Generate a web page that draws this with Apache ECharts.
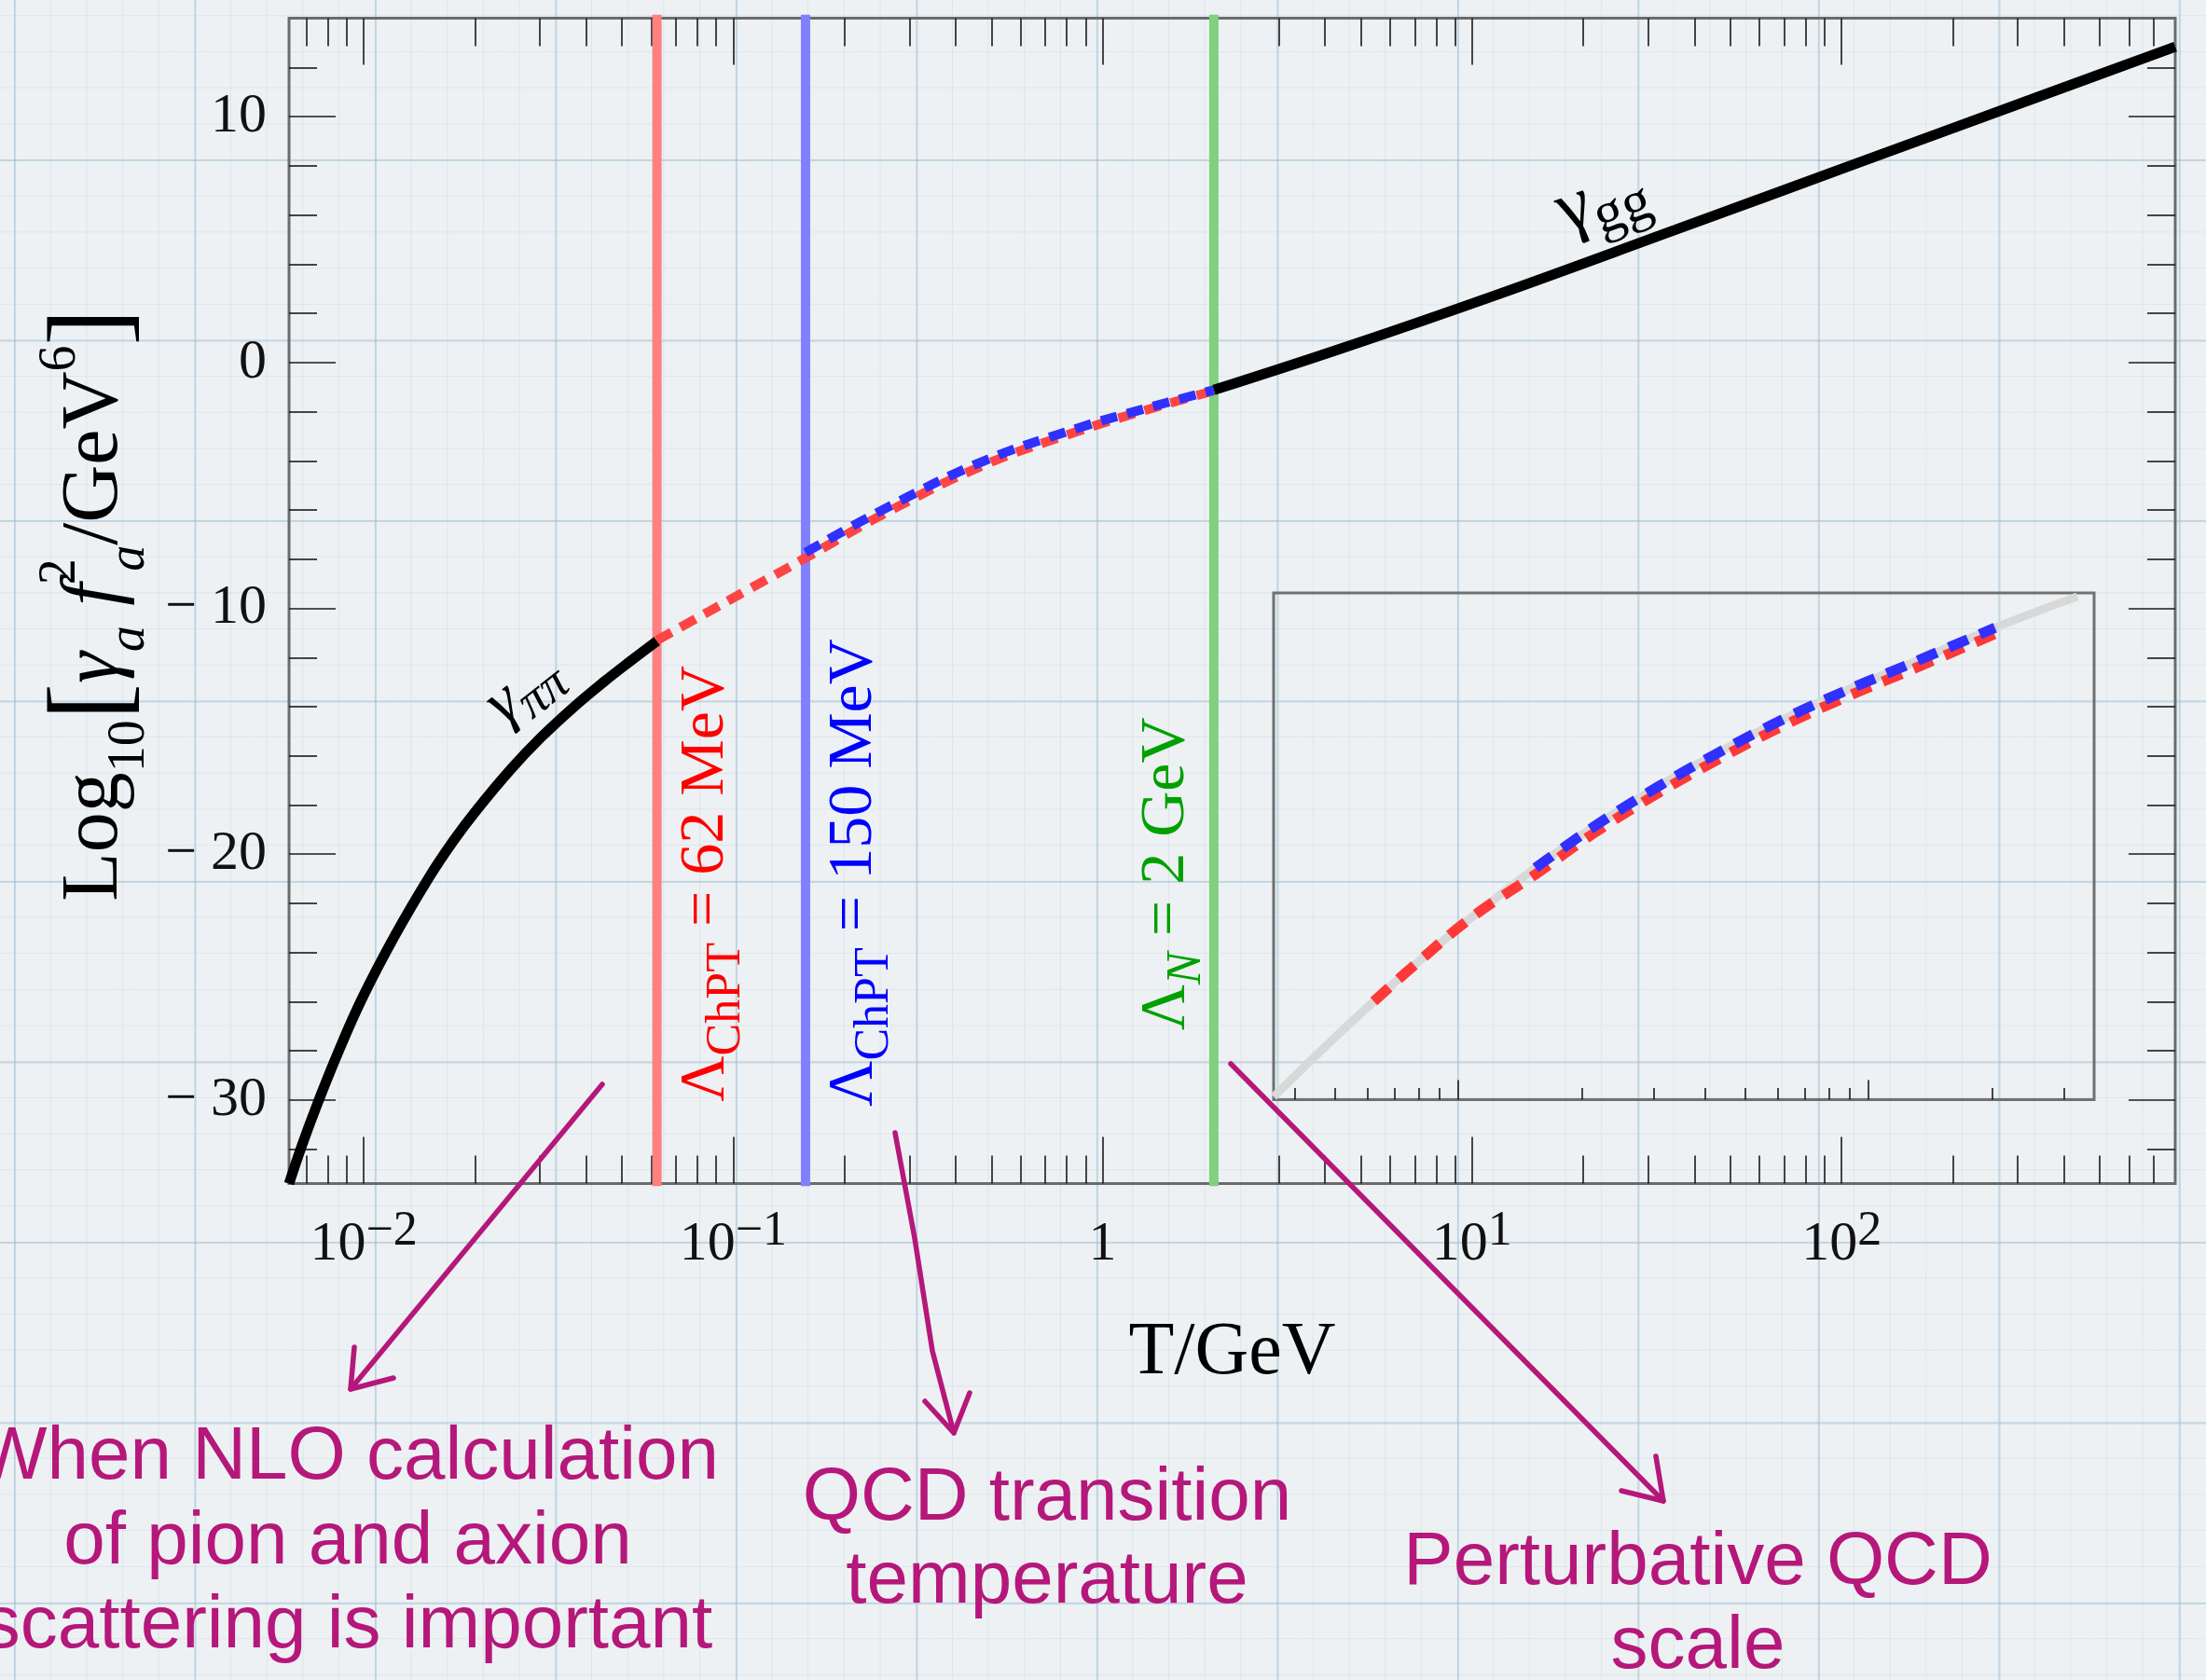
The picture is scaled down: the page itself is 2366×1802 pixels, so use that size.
<!DOCTYPE html>
<html>
<head>
<meta charset="utf-8">
<title>Axion thermalisation rate</title>
<script src="https://cdn.jsdelivr.net/npm/echarts@6.0.0/dist/echarts.min.js"></script>
<style>
  html, body { margin: 0; padding: 0; }
  body {
    background-color: #edf1f3;
    background-image:
      linear-gradient(to right, rgba(150, 185, 210, 0.45) 2px, transparent 2px),
      linear-gradient(to bottom, rgba(150, 185, 210, 0.45) 2px, transparent 2px),
      linear-gradient(to right, rgba(165, 190, 210, 0.22) 1px, transparent 1px),
      linear-gradient(to bottom, rgba(165, 190, 210, 0.22) 1px, transparent 1px);
    background-size: 193.5px 193.5px, 193.5px 193.5px, 38.7px 38.7px, 38.7px 38.7px;
    background-position: 15px 171px, 15px 171px, 15px 171px, 15px 171px;
  }
  #chart { width: 2366px; height: 1802px; }
</style>
</head>
<body>
<div id="chart"></div>
<script>
// axis ranges and ticks (main panel)
const xRange = [0.00628, 800];
const yRange = [-33.4, 14];
const xMajorTicks = [0.01, 0.1, 1, 10, 100];
const xTickLabels = ['10^−2', '10^−1', '1', '10^1', '10^2'];
const xMinorTicks = [0.007, 0.008, 0.009,
  0.02, 0.03, 0.04, 0.05, 0.06, 0.07, 0.08, 0.09,
  0.2, 0.3, 0.4, 0.5, 0.6, 0.7, 0.8, 0.9,
  2, 3, 4, 5, 6, 7, 8, 9,
  20, 30, 40, 50, 60, 70, 80, 90,
  200, 300, 400, 500, 600, 700];
const yMajorTicks = [-30, -20, -10, 0, 10];
const yTickLabels = ['− 30', '− 20', '− 10', '0', '10'];
const yMinorTicks = [-32, -28, -26, -24, -22, -18, -16, -14, -12,
  -8, -6, -4, -2, 2, 4, 6, 8, 12];

// Lambda scales (GeV)
const lambdaT = [0.0622, 0.157, 2.0];
const lambdaY = [-33.5, 14.15];

// gamma_pipi (below Lambda_ChPT)
const pipiT = [0.00628, 0.0068, 0.0075, 0.0085, 0.0099, 0.0122, 0.015, 0.0175,
  0.0203, 0.025, 0.0302, 0.037, 0.0445, 0.053, 0.0622];
const pipiY = [-33.4, -31.86, -30.14, -28.11, -25.87, -23.26, -20.96, -19.45,
  -18.17, -16.55, -15.25, -14.02, -13.01, -12.12, -11.33];

// interpolation, Lambda_ChPT = 62 MeV (red) and 150 MeV (blue)
const redT = [0.0622, 0.085, 0.108, 0.157, 0.264, 0.478, 0.865, 1.3, 2.0];
const redY = [-11.3, -10.17, -9.3, -7.95, -6.05, -4.17, -2.78, -1.95, -1.15];
const blueT = [0.157, 0.264, 0.478, 0.865, 1.3, 2.0];
const blueY = [-7.73, -5.86, -4.0, -2.65, -1.88, -1.12];

// gamma_gg (above Lambda_N)
const ggT = [2.0, 4.43, 11.4, 35.4, 110, 340, 800];
const ggY = [-1.12, 0.57, 2.7, 5.39, 8.1, 10.8, 12.84];

// inset panel
const insetXRange = [0.0355, 3.55];
const insetYRange = [-14.14, -0.17];
const insetMajorTicks = [0.1, 1];
const insetMinorTicks = [0.04, 0.05, 0.06, 0.07, 0.08, 0.09,
  0.2, 0.3, 0.4, 0.5, 0.6, 0.7, 0.8, 0.9, 2, 3];
const insetGrayT = [0.0355, 0.0478, 0.0623, 0.0813, 0.108, 0.1543, 0.2126,
  0.303, 0.433, 0.618, 0.882, 1.26, 2.035, 3.23];
const insetGrayY = [-14.06, -12.64, -11.43, -10.27, -9.11, -7.75, -6.64,
  -5.55, -4.56, -3.66, -2.86, -2.13, -1.13, -0.27];
const insetRedT = [0.0623, 0.0813, 0.108, 0.1543, 0.2126, 0.303, 0.433,
  0.618, 0.882, 1.26, 2.035];
const insetRedY = [-11.43, -10.27, -9.11, -7.93, -6.82, -5.73, -4.74,
  -3.84, -3.04, -2.31, -1.3];
const insetBlueT = [0.1543, 0.2126, 0.303, 0.433, 0.618, 0.882, 1.26, 2.035];
const insetBlueY = [-7.75, -6.64, -5.55, -4.56, -3.66, -2.86, -2.13, -1.13];

const serif = '"Liberation Serif", "DejaVu Serif", serif';
const sans = '"Liberation Sans", Arial, sans-serif';
const magenta = '#b5177a';

const pairs = (xs, ys) => xs.map((x, i) => [x, ys[i]]);

function xTickText(v) {
  const i = xMajorTicks.findIndex(t => Math.abs(Math.log10(t) - Math.log10(v)) < 1e-6);
  if (i < 0) return '';
  const parts = xTickLabels[i].split('^');
  return parts.length > 1 ? '{b|' + parts[0] + '}{s|' + parts[1] + '}' : '{b|' + parts[0] + '}';
}

function yTickText(v) {
  const i = yMajorTicks.findIndex(t => Math.abs(t - v) < 1e-6);
  return i < 0 ? '' : yTickLabels[i];
}

const tickStyle = { color: '#1a1a1a', width: 1.6 };

function logAxis(gridIndex, position, range, ticks, len, label) {
  return {
    type: 'log', logBase: 10, gridIndex: gridIndex, position: position,
    min: range[0], max: range[1],
    axisLine: { show: false, onZero: false },
    splitLine: { show: false },
    axisTick: { show: true, inside: true, length: len, customValues: ticks, lineStyle: tickStyle },
    axisLabel: label || { show: false }
  };
}

function valueAxis(gridIndex, position, range, ticks, len, label) {
  return {
    type: 'value', gridIndex: gridIndex, position: position,
    min: range[0], max: range[1],
    axisLine: { show: false, onZero: false },
    splitLine: { show: false },
    axisTick: { show: ticks.length > 0, inside: true, length: len, customValues: ticks, lineStyle: tickStyle },
    axisLabel: label || { show: false }
  };
}

function curve(data, color, width, dash, z, xi, yi) {
  return {
    type: 'line', data: data, xAxisIndex: xi || 0, yAxisIndex: yi || 0,
    symbol: 'none', smooth: 0.4, silent: true, z: z,
    lineStyle: { color: color, width: width, type: dash || 'solid', cap: 'butt' }
  };
}

function vline(t, color) {
  return {
    type: 'line', data: [[t, lambdaY[0]], [t, lambdaY[1]]], symbol: 'none',
    silent: true, clip: false, z: 1,
    lineStyle: { color: color, width: 10 }
  };
}

const chart = echarts.init(document.getElementById('chart'));

const option = {
  animation: false,
  backgroundColor: 'transparent',
  grid: [
    { left: 310, top: 19.6, right: 33, bottom: 532.4, containLabel: false,
      show: true, borderColor: '#6b6b6b', borderWidth: 3, backgroundColor: 'transparent' },
    { left: 1366, top: 636, width: 880, height: 543.5, containLabel: false,
      show: true, borderColor: '#707070', borderWidth: 3, backgroundColor: 'transparent' }
  ],
  xAxis: [
    logAxis(0, 'bottom', xRange, xMajorTicks, 50, {
      show: true, customValues: xMajorTicks, margin: 26, formatter: xTickText,
      rich: {
        b: { fontSize: 60, fontFamily: serif, color: '#111', lineHeight: 80, verticalAlign: 'middle' },
        s: { fontSize: 52, fontFamily: serif, color: '#111', lineHeight: 32, verticalAlign: 'top' }
      }
    }),
    logAxis(0, 'bottom', xRange, xMinorTicks, 30),
    logAxis(0, 'top', xRange, xMajorTicks, 50),
    logAxis(0, 'top', xRange, xMinorTicks, 30),
    logAxis(1, 'bottom', insetXRange, insetMajorTicks, 21),
    logAxis(1, 'bottom', insetXRange, insetMinorTicks, 12.5)
  ],
  yAxis: [
    valueAxis(0, 'left', yRange, yMajorTicks, 50, {
      show: true, customValues: yMajorTicks, margin: 24, formatter: yTickText,
      fontSize: 60, fontFamily: serif, color: '#111'
    }),
    valueAxis(0, 'left', yRange, yMinorTicks, 30),
    valueAxis(0, 'right', yRange, yMajorTicks, 50),
    valueAxis(0, 'right', yRange, yMinorTicks, 30),
    valueAxis(1, 'left', insetYRange, [], 0)
  ],
  series: [
    vline(lambdaT[0], '#ff8080'),
    vline(lambdaT[1], '#8080ff'),
    vline(lambdaT[2], '#80d080'),
    curve(pairs(pipiT, pipiY), '#000', 11, 'solid', 3),
    curve(pairs(redT, redY), '#ff4444', 10, [18, 11], 4),
    curve(pairs(blueT, blueY), '#3030ff', 10, [18, 11], 5),
    curve(pairs(ggT, ggY), '#000', 11, 'solid', 3),
    curve(pairs(insetGrayT, insetGrayY), '#d8d8d8', 9, 'solid', 3, 4, 4),
    curve(pairs(insetRedT, insetRedY), '#ff3838', 11, [22, 14], 4, 4, 4),
    curve(pairs(insetBlueT, insetBlueY), '#3030ff', 11, [22, 14], 5, 4, 4)
  ]
};

chart.setOption(option);

// annotation labels anchored in data coordinates
const at = (t, y, dx, dy) => {
  const p = chart.convertToPixel({ seriesIndex: 3 }, [t, y]);
  return [p[0] + (dx || 0), p[1] + (dy || 0)];
};

const lamRich = (color) => ({
  m: { fontSize: 68, fontFamily: serif, fill: color, lineHeight: 96, verticalAlign: 'middle' },
  s: { fontSize: 52, fontFamily: serif, fill: color, lineHeight: 52, verticalAlign: 'bottom' },
  si: { fontSize: 52, fontFamily: serif, fontStyle: 'italic', fill: color, lineHeight: 52, verticalAlign: 'bottom' }
});

function label(pos, rot, text, rich, color) {
  return {
    type: 'text', x: pos[0], y: pos[1], rotation: rot, z: 20, silent: true,
    style: { text: text, rich: rich, fill: color, align: 'center', verticalAlign: 'middle' }
  };
}

function arrow(points) {
  return {
    type: 'polyline', z: 20, silent: true,
    shape: { points: points },
    style: { stroke: magenta, lineWidth: 5.5, fill: null, lineCap: 'round', lineJoin: 'round' }
  };
}

function note(x, top, text, size, lh) {
  return {
    type: 'text', x: x, y: top, z: 20, silent: true,
    style: { text: text, fill: magenta, fontSize: size, fontFamily: sans,
      lineHeight: lh, align: 'center', verticalAlign: 'top' }
  };
}

const rad = Math.PI / 180;

chart.setOption({
  graphic: [
    label(at(lambdaT[0], -21.2, 53), 90 * rad, '{m|Λ}{s|ChPT}{m| = 62 MeV}', lamRich('#ff0000'), '#ff0000'),
    label(at(lambdaT[1], -20.75, 52), 90 * rad, '{m|Λ}{s|ChPT}{m| = 150 MeV}', lamRich('#0000ff'), '#0000ff'),
    label(at(lambdaT[2], -20.8, -50.5), 90 * rad, '{m|Λ}{si|N}{m| = 2 GeV}', lamRich('#00a000'), '#00a000'),
    label(at(0.0277, -13.27, -4, 0), 38 * rad, '{g|γ}{s|ππ}', {
      g: { fontSize: 70, fontFamily: serif, fontStyle: 'italic', fill: '#000', lineHeight: 90, verticalAlign: 'middle' },
      s: { fontSize: 54, fontFamily: serif, fontStyle: 'italic', fill: '#000', lineHeight: 54, verticalAlign: 'bottom' }
    }, '#000'),
    label(at(22.9, 6.26, -4, -10), 20 * rad, '{g|γ}{s|gg}', {
      g: { fontSize: 80, fontFamily: serif, fill: '#000', lineHeight: 100, verticalAlign: 'middle' },
      s: { fontSize: 62, fontFamily: serif, fill: '#000', lineHeight: 62, verticalAlign: 'bottom' }
    }, '#000'),
    // axis titles
    label([102, 649], 90 * rad,
      '{m|Log}{sb|10}{br|[}{mi|γ}{sbi|a}{mi| f}{sp0|2}{sbi|a}{m|/GeV}{sp|6}{br|]}', {
        m: { fontSize: 86, fontFamily: serif, fill: '#000', lineHeight: 130, verticalAlign: 'middle' },
        mi: { fontSize: 86, fontFamily: serif, fontStyle: 'italic', fill: '#000', lineHeight: 130, verticalAlign: 'middle' },
        br: { fontSize: 118, fontFamily: serif, fill: '#000', lineHeight: 130, verticalAlign: 'middle' },
        sb: { fontSize: 56, fontFamily: serif, fill: '#000', lineHeight: 80, verticalAlign: 'bottom' },
        sbi: { fontSize: 56, fontFamily: serif, fontStyle: 'italic', fill: '#000', lineHeight: 80, verticalAlign: 'bottom' },
        sp: { fontSize: 56, fontFamily: serif, fill: '#000', lineHeight: 70, verticalAlign: 'top' },
        sp0: { fontSize: 56, fontFamily: serif, fill: '#000', lineHeight: 70, verticalAlign: 'top',
          width: 1, padding: [0, 0, 0, 12] }
      }, '#000'),
    {
      type: 'text', x: 1321.5, y: 1412, z: 20, silent: true,
      style: { text: 'T/GeV', fill: '#000', fontSize: 80, fontFamily: serif,
        lineHeight: 80, align: 'center', verticalAlign: 'top' }
    },
    // hand-drawn arrows and notes
    arrow([[646, 1163], [376, 1490]]),
    arrow([[380, 1445], [376, 1490], [422, 1478]]),
    arrow([[960, 1215], [981, 1328], [1000, 1449], [1023, 1537]]),
    arrow([[992, 1503], [1023, 1537], [1040, 1494]]),
    arrow([[1320, 1141], [1784, 1610]]),
    arrow([[1739, 1599], [1784, 1610], [1776, 1562]]),
    note(373, 1519, 'When NLO calculation\nof pion and axion\nscattering is important', 80, 90.5),
    note(1123, 1563, 'QCD transition\ntemperature', 80, 89),
    note(1821, 1632, 'Perturbative QCD\nscale', 80, 90)
  ]
});
</script>
</body>
</html>
